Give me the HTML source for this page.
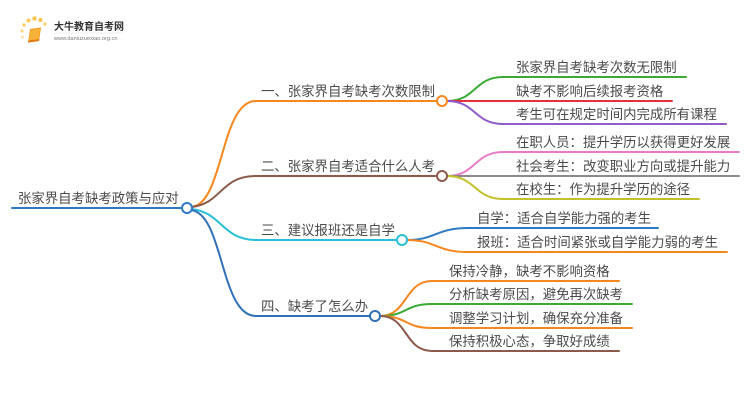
<!DOCTYPE html>
<html><head><meta charset="utf-8"><style>
html,body{margin:0;padding:0;background:#fff;}
svg{display:block;}
text{font-family:"Liberation Sans","Noto Sans CJK SC",sans-serif;fill:#4a4a4a;font-size:13.4px;}
</style></head><body>
<svg width="750" height="410" viewBox="0 0 750 410" xmlns="http://www.w3.org/2000/svg">
<!-- logo -->
<g>
<circle cx="22" cy="31" r="1.6" fill="#fbd57a"/>
<circle cx="24" cy="25" r="1.8" fill="#fbd06a"/>
<circle cx="28.5" cy="20.5" r="2" fill="#fbc85a"/>
<circle cx="34.5" cy="18.5" r="2.2" fill="#f9c04a"/>
<circle cx="40.5" cy="20" r="2" fill="#f9c04a"/>
<circle cx="45" cy="24" r="1.7" fill="#fbd06a"/>
<circle cx="22.5" cy="37" r="1.4" fill="#fde2a0"/>
<path d="M30 29 L41 27.5 L39 41 L28 42.5 Z" fill="#f39a1e"/>
<path d="M30.5 30 L40 28.8 L38.3 39.5 L29 40.8 Z" fill="#f7b23a"/>
<path d="M28 42.5 L39 41 L39.5 39 L28.5 40.5 Z" fill="#e07a10"/>
<text x="54" y="30" style="font-size:10px;fill:#333;font-weight:bold;">大牛教育自考网</text>
<line x1="54" y1="33" x2="123" y2="33" stroke="#ddd" stroke-width="0.6"/>
<text x="54" y="40" style="font-size:5.6px;fill:#777;">www.daniuzuexiao.org.cn</text>
</g>

<g fill="none" stroke-width="2" stroke-linecap="round">
<!-- root -->
<line x1="12" y1="208" x2="182" y2="208" stroke="#2f78c4"/>
<!-- main branches -->
<path d="M191 207 C224 205 220 101 256 101 L437 101" stroke="#f5871f"/>
<path d="M191 207 C222 204 220 176 256 176 L437 176" stroke="#8b5a4b"/>
<path d="M191 209 C222 212 222 240 256 240 L397 240" stroke="#27c0d8"/>
<path d="M191 210 C224 214 220 316 256 316 L370 316" stroke="#2f72b8"/>

<!-- branch 1 children -->
<path d="M447 101 C476 101 474 77 503 77 L686 77" stroke="#3aaa35"/>
<path d="M447 101 L672 101" stroke="#e6303a"/>
<path d="M447 101 C476 101 474 124 503 124 L726 124" stroke="#8e5bc8"/>
<!-- branch 2 children -->
<path d="M447 176 C476 176 474 152 503 152 L739 152" stroke="#e67cc8"/>
<path d="M447 176 L739 176" stroke="#8a8a8a"/>
<path d="M447 176 C476 176 474 199 503 199 L699 199" stroke="#c3c12a"/>
<!-- branch 3 children -->
<path d="M407 240 C436 240 436 228 468 228 L658 228" stroke="#2f7bc2"/>
<path d="M407 240 C436 240 436 252 468 252 L727 252" stroke="#f5871f"/>
<!-- branch 4 children -->
<path d="M380 316 C408 316 404 281 432 281 L619 281" stroke="#f5871f"/>
<path d="M380 316 C408 316 404 304 432 304 L632 304" stroke="#3aaa35"/>
<path d="M380 316 C408 316 404 328 432 328 L632 328" stroke="#f5871f"/>
<path d="M380 316 C408 316 404 351 432 351 L619 351" stroke="#8b5a4b"/>
</g>

<!-- circles -->
<g fill="#fff" stroke-width="2">
<circle cx="187" cy="208" r="5" stroke="#2f78c4"/>
<circle cx="442" cy="101" r="5" stroke="#f5871f"/>
<circle cx="442" cy="176" r="5" stroke="#8b5a4b"/>
<circle cx="402" cy="240" r="5" stroke="#27c0d8"/>
<circle cx="375" cy="316" r="5" stroke="#2f72b8"/>
</g>

<!-- texts -->
<text x="18" y="203">张家界自考缺考政策与应对</text>
<text x="261" y="96">一、张家界自考缺考次数限制</text>
<text x="261" y="171">二、张家界自考适合什么人考</text>
<text x="261" y="235">三、建议报班还是自学</text>
<text x="261" y="311">四、缺考了怎么办</text>

<text x="516" y="72">张家界自考缺考次数无限制</text>
<text x="516" y="96">缺考不影响后续报考资格</text>
<text x="516" y="119">考生可在规定时间内完成所有课程</text>
<text x="516" y="147">在职人员：提升学历以获得更好发展</text>
<text x="516" y="171">社会考生：改变职业方向或提升能力</text>
<text x="516" y="194">在校生：作为提升学历的途径</text>

<text x="477" y="223">自学：适合自学能力强的考生</text>
<text x="477" y="247">报班：适合时间紧张或自学能力弱的考生</text>

<text x="449" y="276">保持冷静，缺考不影响资格</text>
<text x="449" y="299">分析缺考原因，避免再次缺考</text>
<text x="449" y="323">调整学习计划，确保充分准备</text>
<text x="449" y="346">保持积极心态，争取好成绩</text>
</svg>
</body></html>
